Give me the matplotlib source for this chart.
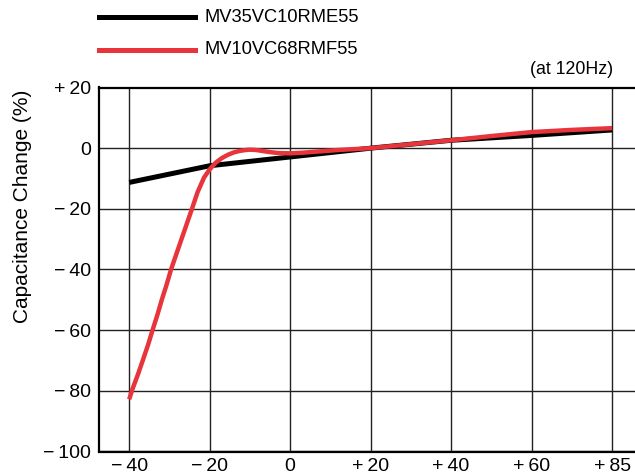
import numpy as np
import matplotlib.pyplot as plt

plt.rcParams['font.family'] = ['Liberation Sans', 'DejaVu Sans']

# temperature ticks (the last one sits where +80 would be)
tick_temps = [-40, -20, 0, 20, 40, 60, 85]
tick_pos = [-40, -20, 0, 20, 40, 60, 80]
tick_labels = ['\u2212\u200940', '\u2212\u200920', '0', '+\u200920', '+\u200940', '+\u200960', '+\u200985']
y_ticks = [20, 0, -20, -40, -60, -80, -100]
y_labels = ['+\u200920', '0', '\u2212\u200920', '\u2212\u200940', '\u2212\u200960', '\u2212\u200980', '\u2212\u2009100']

# MV35VC10RME55
black_t = [-40, -20, 0, 20, 40, 60, 85]
black_c = [-11.3, -5.8, -2.9, 0.0, 2.6, 4.2, 6.0]

# MV10VC68RMF55
red_t = [-40, -39.2, -37.8, -36.5, -35.3, -34.2, -33, -31.9, -30.7, -29.6, -28.3, -27,
         -25.7, -24.4, -23, -21.4, -20, -18.5, -17, -15.5, -14, -12.5, -11, -10, -8.5,
         -7, -5, -3, 0, 3, 6, 9, 12, 16, 20, 30, 40, 50, 60, 72, 85]
red_c = [-82.8, -79.5, -74.5, -69.5, -64.8, -60, -55, -50, -45, -40, -35, -30,
         -25, -20, -14.5, -9.7, -7, -4.8, -3.3, -2.2, -1.4, -0.9, -0.6, -0.5, -0.6,
         -0.9, -1.3, -1.6, -1.7, -1.5, -1.2, -0.9, -0.6, -0.3, 0.0, 1.3, 2.6, 4.0, 5.3, 6.0, 6.6]

def to_pos(t):
    return np.interp(t, tick_temps, tick_pos)

fig = plt.figure(figsize=(6.35, 4.76), dpi=100)
ax = fig.add_axes([99/635, 24.5/476, 1 - 99/635, 364/476])

ax.plot(to_pos(black_t), black_c, color='black', lw=3.6, solid_capstyle='butt', zorder=3)
ax.plot(to_pos(red_t), red_c, color='#e8353c', lw=3.2, solid_capstyle='butt', zorder=4)

ax.set_xlim(-47.5, 85.7)
ax.set_ylim(-100, 20)
ax.set_xticks(tick_pos)
ax.set_xticklabels(tick_labels)
ax.set_yticks(y_ticks)
ax.set_yticklabels(y_labels)
ax.tick_params(length=0, labelsize=14, pad=6)
ax.tick_params(axis='x', pad=4.5)
ax.grid(True, color='#222222', lw=1)
ax.spines['right'].set_visible(False)
for s in ['left', 'top', 'bottom']:
    ax.spines[s].set_linewidth(1.6)

# y label sits above the axes centre in the reference
fig.text(23/635, 1 - 206/476, 'Capacitance Change (%)', rotation=90,
         ha='center', va='center', fontsize=15)

ax.text(1.0 - 22/536, 1.025, '(at 120Hz)', transform=ax.transAxes, ha='right',
        va='bottom', fontsize=12.8)

# legend drawn by hand at the top
fig.add_artist(plt.Line2D([99/635, 195/635], [1 - 17/476, 1 - 17/476], color='black', lw=3.6))
fig.add_artist(plt.Line2D([99/635, 195/635], [1 - 50/476, 1 - 50/476], color='#e8353c', lw=3.6))
fig.text(205/635, 1 - 17/476, 'MV35VC10RME55', va='center', fontsize=13.2)
fig.text(205/635, 1 - 50/476, 'MV10VC68RMF55', va='center', fontsize=13.2)

plt.savefig('out.png')
